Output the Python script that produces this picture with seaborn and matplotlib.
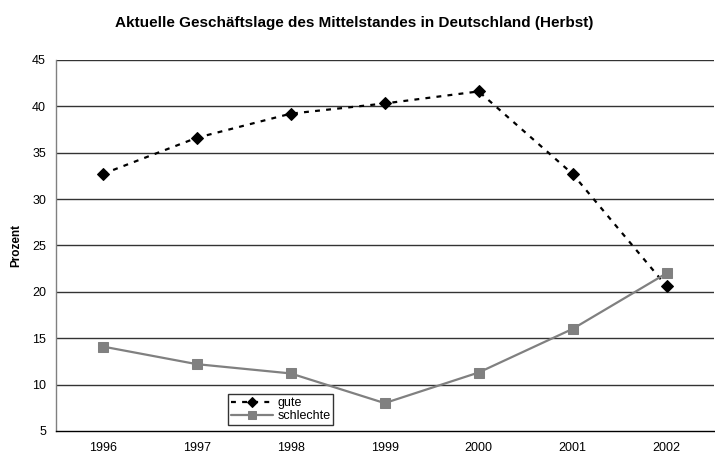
import numpy as np
import pandas as pd
import seaborn as sns
import matplotlib.pyplot as plt

# Data
jahre = ['1996', '1997', '1998', '1999', '2000', '2001', '2002']
gute = [32.7, 36.6, 39.2, 40.3, 41.6, 32.7, 20.6]
schlechte = [14.1, 12.2, 11.2, 8.0, 11.3, 16.0, 22.0]

df = pd.DataFrame({
    'Jahr': list(range(len(jahre))) * 2,
    'Prozent': gute + schlechte,
    'Serie': ['gute'] * len(jahre) + ['schlechte'] * len(jahre),
})

sns.set_style('white', {'text.color': 'black', 'xtick.color': 'black',
                        'ytick.color': 'black', 'axes.labelcolor': 'black'})
plt.rcParams['font.family'] = ['Liberation Sans', 'DejaVu Sans']

fig = plt.figure(figsize=(7.15, 4.57), dpi=100)
ax = fig.add_axes([0.078, 0.057, 0.92, 0.812])

sns.lineplot(data=df[df['Serie'] == 'gute'], x='Jahr', y='Prozent', ax=ax,
             color='black', linestyle=(0, (2.2, 2.8)), linewidth=1.6,
             marker='D', markersize=6, markeredgecolor='black', label='gute')
sns.lineplot(data=df[df['Serie'] == 'schlechte'], x='Jahr', y='Prozent', ax=ax,
             color='#808080', linewidth=1.6,
             marker='s', markersize=7, markeredgecolor='#808080', label='schlechte')

ax.set_xlim(-0.5, len(jahre) - 0.5)
ax.set_ylim(5, 45)
ax.set_yticks(range(5, 46, 5))
ax.set_xticks(range(len(jahre)))
ax.set_xticklabels(jahre)
ax.set_xticks(np.arange(-0.5, len(jahre), 1), minor=True)
ax.tick_params(axis='x', which='major', length=0, pad=8, labelsize=9)
ax.tick_params(axis='x', which='minor', length=5, width=1, color='black', direction='out')
ax.tick_params(axis='y', length=5, width=1, color='black', direction='out', labelsize=9, pad=2)

for y in range(10, 46, 5):
    ax.axhline(y, color='#333333', linewidth=1, zorder=0)

for s in ['top', 'right']:
    ax.spines[s].set_visible(False)
ax.spines['left'].set_color('#808080')
ax.spines['bottom'].set_color('black')
ax.spines['left'].set_linewidth(1)
ax.spines['bottom'].set_linewidth(1)

ax.set_xlabel('')
ax.set_ylabel('Prozent', fontsize=8.5, fontweight='bold', labelpad=7)
fig.suptitle('Aktuelle Geschäftslage des Mittelstandes in Deutschland (Herbst)',
             fontsize=11, fontweight='bold', x=0.496, y=0.965)

leg = ax.legend(loc='lower left', bbox_to_anchor=(0.253, 0.0), frameon=True,
                fontsize=9, handlelength=3.4, handletextpad=0.3, markerscale=0.85,
                borderpad=0.2, labelspacing=0.1, fancybox=False)
leg.get_frame().set_edgecolor('black')
leg.get_frame().set_linewidth(1)

fig.savefig('out.png', dpi=100)
